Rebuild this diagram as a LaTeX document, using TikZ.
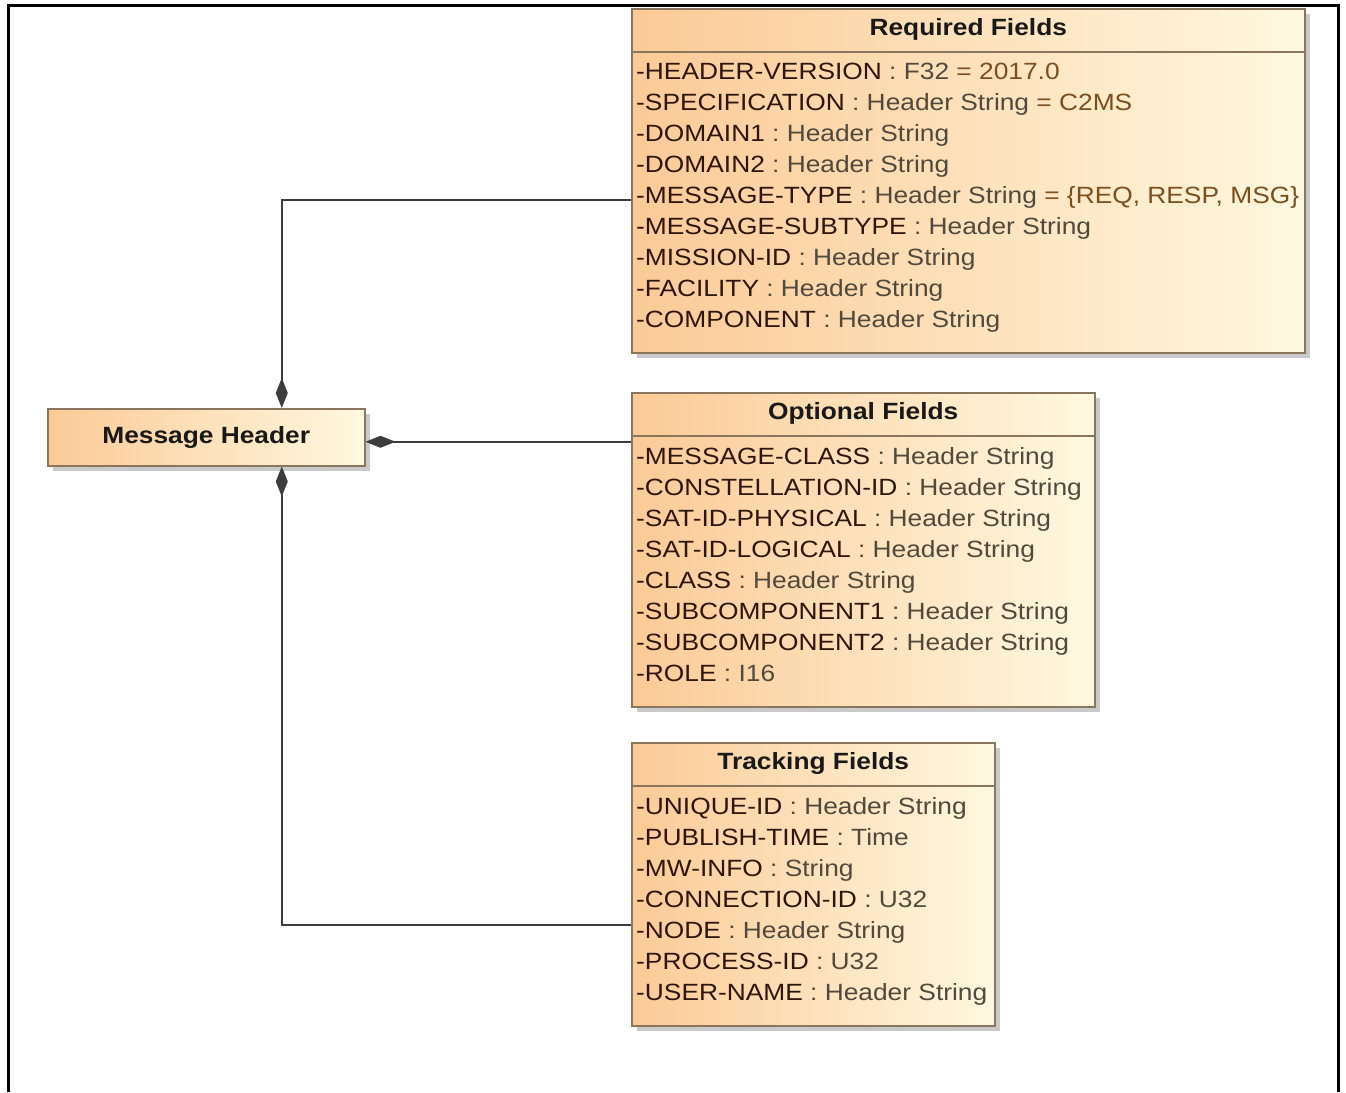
\documentclass[tikz,border=0pt]{standalone}
\usepackage{fontspec}
\setmainfont{Liberation Sans}[FakeStretch=1.12]
\usetikzlibrary{arrows.meta,shadows}
\definecolor{boxL}{RGB}{251,202,150}
\definecolor{boxR}{RGB}{255,248,224}
\definecolor{boxB}{RGB}{138,118,92}
\definecolor{namec}{RGB}{45,22,14}
\definecolor{typec}{RGB}{80,74,62}
\definecolor{valc}{RGB}{125,78,30}
\definecolor{linec}{RGB}{60,60,60}
\newcommand\fld[2]{\textcolor{namec}{#1}\ \textcolor{typec}{:\ #2}}
\newcommand\fldv[3]{\textcolor{namec}{#1}\ \textcolor{typec}{:\ #2}\ \textcolor{valc}{=\ #3}}
\begin{document}
\begin{tikzpicture}[x=1pt,y=-1pt,
  umlbox/.style={draw=boxB, line width=1.5pt, left color=boxL, right color=boxR, inner sep=0pt,
    anchor=north west, drop shadow={shadow xshift=5pt, shadow yshift=-5pt, fill=black!35, opacity=0.6}},
  sepline/.style={draw=boxB, line width=1.2pt},
  ttl/.style={font=\fontsize{23.5}{28}\selectfont\bfseries, text=black!90, inner sep=0pt},
  row/.style={font=\fontsize{23.5}{28}\selectfont, anchor=west, inner sep=0pt, text height=17pt, text depth=5pt},
  conn/.style={draw=linec, line width=2pt},
  comp/.style={{Diamond[length=30pt,width=12pt,fill=linec]}-}
]
\useasboundingbox (0,0) rectangle (1346,1092);
\fill[white] (0,0) rectangle (1346,1092);
\draw[line width=3pt, black] (8,1092) -- (8,5) -- (1338,5) -- (1338,1092);

% Message Header
\node[umlbox, minimum width=317pt, minimum height=57pt] (mh) at (47,408) {};
\node[ttl] (mht) at (mh.center) {Message Header};

% Required Fields
\node[umlbox, minimum width=673pt, minimum height=344pt] (req) at (631,8) {};
\draw[sepline] ([yshift=-44pt]req.north west) -- ([yshift=-44pt]req.north east);
\node[ttl] (reqt) at ([yshift=-21pt]req.north) {Required Fields};
\node[row] (r1) at (636,73) {\fldv{-HEADER-VERSION}{F32}{2017.0}};
\node[row] (r2) at (636,104) {\fldv{-SPECIFICATION}{Header String}{C2MS}};
\node[row] (r3) at (636,135) {\fld{-DOMAIN1}{Header String}};
\node[row] (r4) at (636,166) {\fld{-DOMAIN2}{Header String}};
\node[row] (r5) at (636,197) {\fldv{-MESSAGE-TYPE}{Header String}{\{REQ, RESP, MSG\}}};
\node[row] (r6) at (636,228) {\fld{-MESSAGE-SUBTYPE}{Header String}};
\node[row] (r7) at (636,259) {\fld{-MISSION-ID}{Header String}};
\node[row] (r8) at (636,290) {\fld{-FACILITY}{Header String}};
\node[row] (r9) at (636,321) {\fld{-COMPONENT}{Header String}};

% Optional Fields
\node[umlbox, minimum width=463pt, minimum height=314pt] (opt) at (631,392) {};
\draw[sepline] ([yshift=-44pt]opt.north west) -- ([yshift=-44pt]opt.north east);
\node[ttl] (optt) at ([yshift=-21pt]opt.north) {Optional Fields};
\node[row] (o1) at (636,458) {\fld{-MESSAGE-CLASS}{Header String}};
\node[row] (o2) at (636,489) {\fld{-CONSTELLATION-ID}{Header String}};
\node[row] (o3) at (636,520) {\fld{-SAT-ID-PHYSICAL}{Header String}};
\node[row] (o4) at (636,551) {\fld{-SAT-ID-LOGICAL}{Header String}};
\node[row] (o5) at (636,582) {\fld{-CLASS}{Header String}};
\node[row] (o6) at (636,613) {\fld{-SUBCOMPONENT1}{Header String}};
\node[row] (o7) at (636,644) {\fld{-SUBCOMPONENT2}{Header String}};
\node[row] (o8) at (636,675) {\fld{-ROLE}{I16}};

% Tracking Fields
\node[umlbox, minimum width=363pt, minimum height=283pt] (trk) at (631,742) {};
\draw[sepline] ([yshift=-44pt]trk.north west) -- ([yshift=-44pt]trk.north east);
\node[ttl] (trkt) at ([yshift=-21pt]trk.north) {Tracking Fields};
\node[row] (t1) at (636,808) {\fld{-UNIQUE-ID}{Header String}};
\node[row] (t2) at (636,839) {\fld{-PUBLISH-TIME}{Time}};
\node[row] (t3) at (636,870) {\fld{-MW-INFO}{String}};
\node[row] (t4) at (636,901) {\fld{-CONNECTION-ID}{U32}};
\node[row] (t5) at (636,932) {\fld{-NODE}{Header String}};
\node[row] (t6) at (636,963) {\fld{-PROCESS-ID}{U32}};
\node[row] (t7) at (636,994) {\fld{-USER-NAME}{Header String}};

% Connectors
\draw[conn, comp] ([xshift=75.5pt]mh.north) |- ([yshift=-192pt]req.north west);
\draw[conn, comp] ([yshift=-4.5pt]mh.east) -- ([yshift=-4.5pt]mh.east -| opt.west);
\draw[conn, comp] ([xshift=75.5pt]mh.south) |- ([yshift=-183pt]trk.north west);
\end{tikzpicture}
\end{document}
